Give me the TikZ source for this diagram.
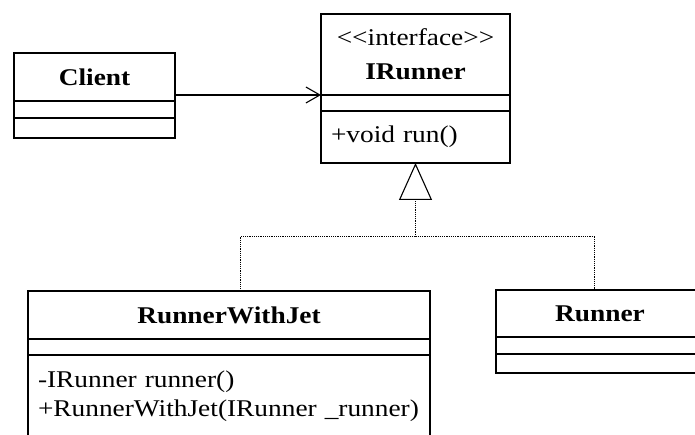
\documentclass[tikz,border=0pt]{standalone}
\usepackage{fontspec}
\newfontfamily\umlfont[FakeStretch=1.14]{Liberation Serif}
\usetikzlibrary{positioning,arrows.meta}

\begin{document}
\begin{tikzpicture}[x=1pt,y=-1pt,
    font=\umlfont\fontsize{24}{29}\selectfont,
    classbox/.style={draw,line width=1.1pt,inner sep=0pt,outer sep=0pt,
        minimum width=#1pt,anchor=north west},
    opsbox/.style={classbox=#1,align=left,inner xsep=10pt},
    uses/.style={line width=1.1pt,-{Straight Barb[length=14pt,width=16pt]}},
    realize/.style={line width=1pt,dash pattern=on 1.2pt off 1pt}]
    \useasboundingbox (0,0) rectangle (695,435);

    % Client
    \node[classbox=161,minimum height=48pt] (client) at (14,53) {\bfseries Client};
    \node[classbox=161,minimum height=17pt,below=0pt of client] (client attr) {};
    \node[classbox=161,minimum height=20pt,below=0pt of client attr] (client ops) {};

    % IRunner
    \node[classbox=189,minimum height=81pt,align=center] (irunner) at (321,14)
        {<<interface>>\\[5pt]\bfseries IRunner};
    \node[classbox=189,minimum height=16pt,below=0pt of irunner] (irunner attr) {};
    \node[opsbox=189,text width=169pt,minimum height=52pt,below=0pt of irunner attr]
        (irunner ops) {+void run()};

    % RunnerWithJet
    \node[classbox=402,minimum height=48pt] (jet) at (28,291) {\bfseries RunnerWithJet};
    \node[classbox=402,minimum height=16pt,below=0pt of jet] (jet attr) {};
    \node[opsbox=402,text width=382pt,minimum height=82pt,below=0pt of jet attr]
        (jet ops) {\mbox{-IRunner runner()}\\\mbox{+RunnerWithJet(IRunner \_runner)}};

    % Runner
    \node[classbox=208,minimum height=47pt] (runner) at (496,290) {\bfseries Runner};
    \node[classbox=208,minimum height=17pt,below=0pt of runner] (runner attr) {};
    \node[classbox=208,minimum height=19pt,below=0pt of runner attr] (runner ops) {};

    % Client -> IRunner
    \draw[uses] (client.south east |- irunner.south west) -- (irunner.south west);

    % realization
    \coordinate (split) at ([yshift=-74pt]irunner ops.south);
    \draw[realize,-{Triangle[open,length=37pt,width=33pt,line width=1.1pt,fill=white]}]
        (split) -- (irunner ops.south);
    \draw[realize] (split) -| ([xshift=11pt]jet.north);
    \draw[realize] (split) -| ([xshift=-6pt]runner.north);
\end{tikzpicture}
\end{document}
